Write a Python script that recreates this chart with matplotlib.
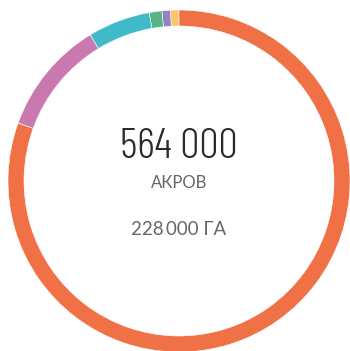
import matplotlib
matplotlib.use("Agg")
import matplotlib.pyplot as plt

# land split, share of the ring
segments = ["yellow", "purple", "green", "teal", "pink", "orange"]
shares = [0.8, 0.8, 1.2, 5.9, 10.8, 80.5]
colors = ["#FDC468", "#9483C0", "#56B487", "#40BAC8", "#C978B0", "#EF7145"]

total_label = "564\u2009000"
unit_label = "АКРОВ"
hectare_label = "228\u2009000 ГА"

fig = plt.figure(figsize=(3.5, 3.51), dpi=100)
ax = fig.add_axes([0, 0, 1, 1])

cx, cy = 179, 170
ax.pie(shares, colors=colors, startangle=90, counterclock=True,
       radius=171, center=(cx, cy),
       wedgeprops=dict(width=16, linewidth=0.4, edgecolor="white"))
ax.set_xlim(0, 350)
ax.set_ylim(0, 351)
ax.set_aspect("equal")
ax.axis("off")

ax.text(cx, 203, total_label, ha="center", va="center", fontsize=31,
        family=["Barlow Condensed", "DejaVu Sans"], weight=300, color="#2b2b2b")
ax.text(cx, 168.5, unit_label, ha="center", va="center", fontsize=12,
        family="Lato", color="#666666")
ax.text(cx, 121.5, hectare_label, ha="center", va="center", fontsize=13.5,
        family="Lato", color="#666666")

fig.savefig("out.png", dpi=100)
